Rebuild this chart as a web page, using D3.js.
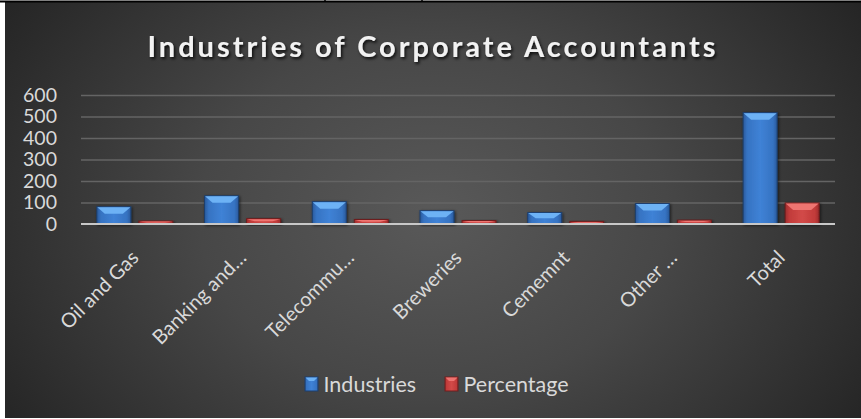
<!DOCTYPE html>
<html>
<head>
<meta charset="utf-8">
<script src="https://cdn.jsdelivr.net/npm/d3@7"></script>
<style>
  html, body { margin: 0; padding: 0; background: #ffffff; }
  svg { display: block; }
  text { font-family: Lato, "Open Sans", sans-serif; }
</style>
</head>
<body>
<svg id="chart" width="861" height="419"></svg>
<script>
// Chart data
const categories = ["Oil and Gas", "Banking and…", "Telecommu…", "Breweries", "Cememnt", "Other …", "Total"];
const seriesNames = ["Industries", "Percentage"];
const industries = [80, 131, 104, 62, 53, 95, 518];
const percentage = [14, 25, 21, 16, 12, 18, 98];
const yTicks = [0, 100, 200, 300, 400, 500, 600];
const title = "Industries of Corporate Accountants";

const W = 861, H = 419;
const svg = d3.select("#chart");
const defs = svg.append("defs");

// Dark radial backdrop
const bg = defs.append("radialGradient").attr("id", "bg")
  .attr("gradientUnits", "userSpaceOnUse")
  .attr("cx", 433).attr("cy", 215).attr("r", 520)
  .attr("gradientTransform", "translate(433,215) scale(1,0.75) translate(-433,-215)");
bg.append("stop").attr("offset", "0%").attr("stop-color", "#595959");
bg.append("stop").attr("offset", "45%").attr("stop-color", "#474747");
bg.append("stop").attr("offset", "100%").attr("stop-color", "#242424");

// Bar fills
function barGradient(id, light, mid, dark) {
  const g = defs.append("linearGradient").attr("id", id)
    .attr("x1", 0).attr("y1", 0).attr("x2", 1).attr("y2", 0);
  g.append("stop").attr("offset", "0%").attr("stop-color", dark);
  g.append("stop").attr("offset", "12%").attr("stop-color", mid);
  g.append("stop").attr("offset", "50%").attr("stop-color", light);
  g.append("stop").attr("offset", "88%").attr("stop-color", mid);
  g.append("stop").attr("offset", "100%").attr("stop-color", dark);
}
barGradient("gBlue", "#3f82d6", "#3673c2", "#2a5a9c");
barGradient("gRed", "#d24a48", "#c13b3a", "#9c2c2c");

const shadow = defs.append("filter").attr("id", "tshadow")
  .attr("x", "-10%").attr("y", "-30%").attr("width", "120%").attr("height", "160%");
shadow.append("feDropShadow").attr("dx", 1.5).attr("dy", 2).attr("stdDeviation", 1.5)
  .attr("flood-color", "#000").attr("flood-opacity", 0.8);

const barShadow = defs.append("filter").attr("id", "bshadow")
  .attr("x", "-20%").attr("y", "-20%").attr("width", "140%").attr("height", "140%");
barShadow.append("feDropShadow").attr("dx", 1).attr("dy", 1).attr("stdDeviation", 1.5)
  .attr("flood-color", "#000").attr("flood-opacity", 0.6);

// Page frame lines
svg.append("rect").attr("x", 5).attr("y", 2).attr("width", W - 5).attr("height", H - 3)
  .attr("fill", "url(#bg)");
svg.append("line").attr("x1", 0).attr("x2", W).attr("y1", 1.5).attr("y2", 1.5)
  .attr("stroke", "#000").attr("stroke-width", 2);
[325, 422].forEach(x => svg.append("line").attr("x1", x).attr("x2", x).attr("y1", 0).attr("y2", 2)
  .attr("stroke", "#000").attr("stroke-width", 1.5));

// Scales
const x = d3.scaleBand().domain(categories).range([81, 835]).paddingInner(0.294).paddingOuter(0.147);
const xs = d3.scaleBand().domain(seriesNames).range([0, x.bandwidth()]).paddingInner(0.19).paddingOuter(0);
const y = d3.scaleLinear().domain([0, 600]).range([224, 95]);

// Title
svg.append("text").attr("x", 433).attr("y", 57)
  .attr("text-anchor", "middle")
  .attr("font-size", 29).attr("font-weight", "bold")
  .attr("letter-spacing", 3)
  .attr("fill", "#f2f2f2")
  .attr("filter", "url(#tshadow)")
  .text(title);

// Gridlines
const grid = svg.append("g").attr("transform", "translate(81,0)")
  .call(d3.axisLeft(y).tickValues(yTicks.filter(t => t > 0)).tickSize(-(835 - 81)).tickFormat(""));
grid.select(".domain").remove();
grid.selectAll("line").attr("stroke", "#646464").attr("stroke-width", 1.3);

// Y axis labels
const yAxis = svg.append("g").attr("transform", "translate(57,0)")
  .call(d3.axisLeft(y).tickValues(yTicks).tickSize(0).tickPadding(0));
yAxis.select(".domain").remove();
yAxis.selectAll("text").attr("font-size", 19.5).attr("fill", "#d9d9d9")
  .attr("font-family", "Lato, 'Open Sans', sans-serif");

// Bars
const rows = categories.map((c, i) => ({ c, vals: [
  { s: "Industries", v: industries[i] },
  { s: "Percentage", v: percentage[i] }
]}));

const groups = svg.append("g").selectAll("g").data(rows).join("g")
  .attr("transform", d => `translate(${x(d.c)},0)`);

const bars = groups.selectAll("g").data(d => d.vals).join("g")
  .attr("filter", "url(#bshadow)");

bars.append("rect")
  .attr("x", d => xs(d.s))
  .attr("y", d => y(d.v))
  .attr("width", xs.bandwidth())
  .attr("height", d => y(0) - y(d.v))
  .attr("fill", d => d.s === "Industries" ? "url(#gBlue)" : "url(#gRed)")
  .attr("stroke", d => d.s === "Industries" ? "#1d3f6e" : "#6e1f1f")
  .attr("stroke-width", 1);

// Bevelled top face
bars.append("path")
  .attr("d", d => {
    const x0 = xs(d.s), w = xs.bandwidth();
    const top = y(d.v), h = y(0) - top;
    const b = Math.min(7, h / 2), inset = Math.min(8, w / 4);
    return `M${x0 + 0.5},${top + 0.5} L${x0 + w - 0.5},${top + 0.5} L${x0 + w - inset},${top + b} L${x0 + inset},${top + b} Z`;
  })
  .attr("fill", d => d.s === "Industries" ? "#6db2f5" : "#ee7471");

// Zero line
svg.append("line").attr("x1", 81).attr("x2", 835).attr("y1", y(0)).attr("y2", y(0))
  .attr("stroke", "#c8c8c8").attr("stroke-width", 2);

// Category labels, slanted
const xAxis = svg.append("g").attr("transform", "translate(0,0)")
  .call(d3.axisBottom(x).tickSize(0).tickPadding(0));
xAxis.select(".domain").remove();
xAxis.selectAll(".tick").attr("transform", d => `translate(${x(d) + x.bandwidth() / 2},0)`);
xAxis.selectAll("text")
  .attr("font-size", 20).attr("fill", "#d9d9d9")
  .attr("font-family", "Lato, 'Open Sans', sans-serif")
  .attr("text-anchor", "end")
  .attr("y", 0).attr("dy", 0)
  .attr("transform", "translate(5,259) rotate(-45)");

// Legend
const legend = svg.append("g").attr("transform", "translate(305,377)");
const items = [
  { s: "Industries", fill: "url(#gBlue)", top: "#6db2f5", stroke: "#1d3f6e", x: 0 },
  { s: "Percentage", fill: "url(#gRed)", top: "#ee7471", stroke: "#6e1f1f", x: 140 }
];
const li = legend.selectAll("g").data(items).join("g").attr("transform", d => `translate(${d.x},0)`);
li.append("rect").attr("width", 13).attr("height", 14).attr("fill", d => d.fill)
  .attr("stroke", d => d.stroke);
li.append("path").attr("d", "M0.5,0.5 L12.5,0.5 L9,4 L4,4 Z").attr("fill", d => d.top);
li.append("text").attr("x", 18.5).attr("y", 14.5)
  .attr("font-size", 21.5).attr("fill", "#d9d9d9").text(d => d.s);
</script>
</body>
</html>
